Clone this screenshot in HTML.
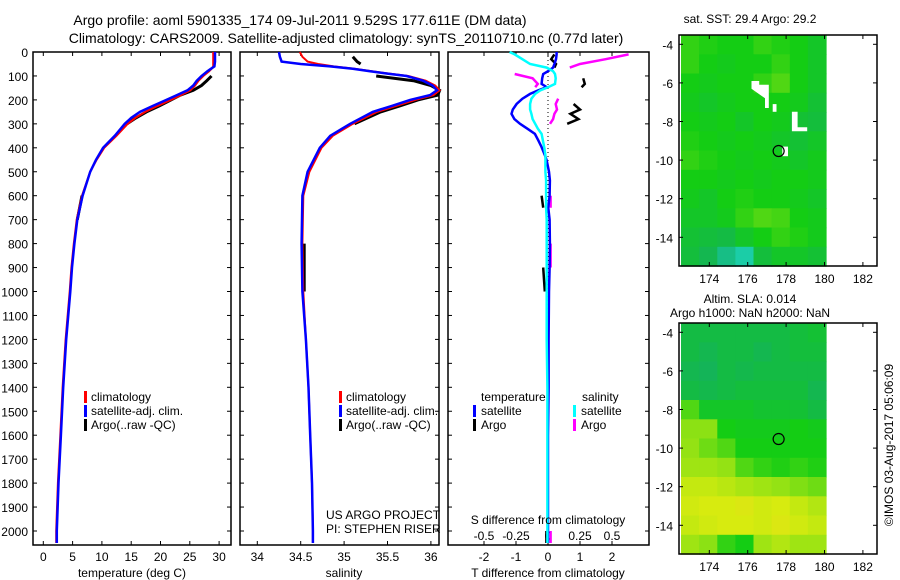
<!DOCTYPE html>
<html><head><meta charset="utf-8"><style>
body{margin:0;background:#fff;}
svg{display:block;font-family:"Liberation Sans",sans-serif;}
text{fill:#000;}
</style></head><body>
<svg id="c" width="900" height="580">
<text x="300" y="25" font-size="14" text-anchor="middle">Argo profile: aoml 5901335_174 09-Jul-2011 9.529S 177.611E (DM data)</text>
<text x="346" y="43" font-size="14" text-anchor="middle">Climatology: CARS2009. Satellite-adjusted climatology: synTS_20110710.nc (0.77d later)</text>
<text x="750" y="23" font-size="12" text-anchor="middle">sat. SST: 29.4 Argo: 29.2</text>
<text x="750" y="303" font-size="12" text-anchor="middle">Altim. SLA: 0.014</text>
<text x="750" y="317" font-size="12" text-anchor="middle">Argo h1000: NaN h2000: NaN</text>
<text transform="translate(893,445) rotate(-90)" font-size="12" text-anchor="middle">©IMOS 03-Aug-2017 05:06:09</text>
</svg>
<script>
// ---- data ----
const depthT=[0,20,40,60,70,80,100,120,140,160,180,200,225,250,275,300,350,400,450,500,600,700,800,900,1000,1200,1400,1600,1800,2000,2050];
const tempSat=[29.3,29.3,29.3,29.2,28.6,28.0,27.0,26.2,25.6,24.6,22.8,21.0,18.7,16.5,15.0,13.9,12.2,10.2,9.0,8.0,6.7,5.8,5.3,4.9,4.6,3.9,3.4,3.0,2.6,2.3,2.3];
const tempClim=[29.0,29.0,29.0,29.0,28.7,28.3,27.3,26.5,25.9,25.1,23.5,21.8,19.5,17.4,15.7,14.4,12.5,10.4,9.1,8.0,6.6,5.7,5.2,4.8,4.5,3.8,3.3,2.9,2.5,2.2,2.2];
const tempArgo=[null,null,null,null,null,null,28.7,27.9,27.0,25.6,23.4,21.8,19.8,17.6,15.8,14.3,null,null,null,null,6.6,5.8,null,null,null,null,null,null,null,null,null];
const depthS=[0,20,40,50,60,70,80,90,100,120,140,160,180,200,225,250,300,350,400,500,600,800,1000,1200,1400,1600,1800,2000,2050];
const salSat=[34.25,34.26,34.28,34.5,34.84,35.1,35.3,35.5,35.72,35.91,36.02,36.07,35.99,35.76,35.55,35.33,35.07,34.84,34.72,34.58,34.52,34.51,34.52,34.56,34.59,34.61,34.63,34.64,34.64];
const salClim=[34.49,34.52,34.58,34.7,34.88,35.12,35.32,35.52,35.74,35.94,36.05,36.1,36.03,35.82,35.6,35.38,35.1,34.87,34.74,34.6,34.53,34.52,34.53,34.56,34.59,34.61,34.63,34.64,34.64];
const salArgo=[null,35.1,35.15,35.19,null,null,null,null,35.37,35.8,36.0,36.1,36.08,35.85,35.64,35.42,35.12,null,null,null,null,34.54,34.54,null,null,null,null,null,null];
const depthD=[0,10,30,50,65,80,92,110,133,147,160,175,195,217,240,258,280,300,320,342,370,397,430,453,500,536,600,650,700,800,900,1000,1200,1400,1600,1800,2000,2050];
const tDiffSat=[0.27,0.27,0.25,0.2,0.16,0,-0.15,-0.18,-0.2,-0.04,-0.3,-0.56,-0.8,-0.98,-1.1,-1.14,-1.05,-0.875,-0.65,-0.41,-0.3,-0.2,-0.1,-0.04,0.03,0.06,0.05,0.01,0.05,0.06,0.05,0.03,0.02,0.02,0,0,0,0];
const sDiffSat=[-0.3,-0.26,-0.2,-0.14,-0.01,0.04,0.055,0.06,0.055,0,-0.06,-0.1,-0.13,-0.14,-0.14,-0.13,-0.12,-0.1,-0.08,-0.05,-0.04,-0.03,-0.02,-0.02,-0.02,-0.015,-0.015,-0.015,-0.01,-0.01,-0.01,-0.01,-0.01,-0.005,-0.005,-0.005,-0.005,-0.005];
const tDiffArgo=[null,0.2,0.1,0.25,0.2,null,null,1.1,1.15,1.05,null,null,null,0.8,1.0,0.7,0.95,0.6,null,null,null,null,null,null,null,null,-0.2,-0.15,null,null,-0.15,-0.1,null,null,null,null,-0.05,-0.05];
const sDiffArgo=[null,0.63,0.45,0.25,0.17,null,-0.26,-0.12,-0.08,-0.1,null,null,0.08,0.06,0.07,0.05,0.04,0.016,null,null,null,null,null,null,null,null,0.02,0.02,null,0.02,0.02,null,0.02,null,0.02,null,0.02,0.02];
const depthTicks=[0,100,200,300,400,500,600,700,800,900,1000,1100,1200,1300,1400,1500,1600,1700,1800,1900,2000];
const tempTicks=[0,5,10,15,20,25,30];
const salTicks=[34,34.5,35,35.5,36];
const tDiffTicks=[-2,-1,0,1,2];
const sDiffTicks=[-0.5,-0.25,0,0.25,0.5];
const sDiffTickLabels=["-0.5","-0.25","0","0.25","0.5"];
const mapLonTicks=[174,176,178,180,182];
const mapLatTicks=[-4,-6,-8,-10,-12,-14];
const sstGrid=[
[.55,.52,.5,.5,.55,.52,.5,.45],[.55,.5,.48,.5,.5,.55,.5,.45],[.5,.48,.5,.5,.55,.6,.5,.45],[.48,.45,.48,.5,.5,.5,.48,.42],
[.5,.48,.5,.45,.5,.48,.42,.4],[.52,.5,.48,.5,.48,.45,.42,.45],[.55,.52,.5,.48,.5,.48,.45,.48],[.5,.5,.48,.5,.48,.5,.5,.48],
[.48,.45,.5,.52,.5,.5,.48,.45],[.45,.45,.48,.55,.6,.58,.5,.48],[.42,.4,.38,.45,.5,.55,.52,.48],[.4,.35,.2,.1,.4,.45,.45,.42]];
const slaGrid=[
[.38,.38,.38,.38,.38,.38,.4,.42],[.38,.35,.38,.38,.35,.38,.4,.4],[.35,.33,.38,.36,.38,.38,.38,.38],[.38,.36,.38,.4,.4,.4,.4,.35],
[.6,.45,.45,.45,.43,.43,.42,.38],[.7,.7,.5,.48,.48,.48,.5,.48],[.72,.65,.6,.5,.5,.5,.5,.5],[.75,.75,.72,.6,.55,.52,.55,.52],
[.85,.85,.82,.78,.75,.72,.68,.65],[.88,.9,.9,.92,.88,.9,.85,.8],[.85,.88,.9,.9,.88,.92,.88,.85],[.75,.7,.55,.5,.75,.8,.75,.75]];
const argoLon=177.611, argoLat=-9.529;

// ---- drawing ----
const svg=document.getElementById('c');
const NS='http://www.w3.org/2000/svg';
function mk(tag,attrs,parent){const e=document.createElementNS(NS,tag);for(const k in attrs)e.setAttribute(k,attrs[k]);(parent||svg).appendChild(e);return e;}
const TOP=52,BOT=545;
const yD=d=>52+d*0.2395;
function line(xs,ds,xf,color,w,name){
  let d='',pen=false;
  for(let i=0;i<xs.length;i++){
    if(xs[i]==null){pen=false;continue;}
    const X=xf(xs[i]).toFixed(1),Y=yD(ds[i]).toFixed(1);
    d+=(pen?'L':'M')+X+','+Y;pen=true;
  }
  const p=mk('path',{d:d,fill:'none',stroke:color,'stroke-width':w});
  
  
}
function frame(x0,x1,name){
  const r=mk('rect',{x:x0,y:TOP,width:x1-x0,height:BOT-TOP,fill:'none',stroke:'#000','stroke-width':1.5});
  
  
  depthTicks.forEach(t=>{const y=yD(t);mk('line',{x1:x0,x2:x0+4,y1:y,y2:y,stroke:'#000'});mk('line',{x1:x1-4,x2:x1,y1:y,y2:y,stroke:'#000'});});
}
function txt(x,y,s,anchor,size,name){const t=mk('text',{x:x,y:y,'font-size':size||12,'text-anchor':anchor||'start'});t.textContent=s;
  
  return t;}
function bar(x,y,c,name){const r=mk('rect',{x:x,y:y-10,width:3,height:12,fill:c});
  
  }

// panel 1 temperature
const xT=v=>43.3+v*5.86;
frame(33,231,'temperature-panel');
depthTicks.forEach(t=>txt(28,yD(t)+5,String(t),'end',12,'depth-tick-label'));
tempTicks.forEach(t=>{const x=xT(t);mk('line',{x1:x,x2:x,y1:BOT,y2:BOT-4,stroke:'#000'});mk('line',{x1:x,x2:x,y1:TOP,y2:TOP+4,stroke:'#000'});txt(x,561,String(t),'middle',12,'temperature-tick-label');});
txt(132,577,'temperature (deg C)','middle',12,'temperature-axis-title');
line(tempArgo,depthT,xT,'#000',3,'temperature-argo-line');
line(tempClim,depthT,xT,'#f00',2,'temperature-climatology-line');
line(tempSat,depthT,xT,'#00f',2.5,'temperature-satellite-line');
bar(84,401,'#f00','legend-climatology-swatch');txt(91,401,'climatology','start',12,'legend-climatology');
bar(84,415,'#00f','legend-satellite-swatch');txt(91,415,'satellite-adj. clim.','start',12,'legend-satellite-adj');
bar(84,429,'#000','legend-argo-swatch');txt(91,429,'Argo(..raw -QC)','start',12,'legend-argo');

// panel 2 salinity
const xS=v=>257.3+(v-34)*86.8;
frame(240,439,'salinity-panel');
salTicks.forEach(t=>{const x=xS(t);mk('line',{x1:x,x2:x,y1:BOT,y2:BOT-4,stroke:'#000'});mk('line',{x1:x,x2:x,y1:TOP,y2:TOP+4,stroke:'#000'});txt(x,561,String(t),'middle',12,'salinity-tick-label');});
txt(344,577,'salinity','middle',12,'salinity-axis-title');
line(salArgo,depthS,xS,'#000',3,'salinity-argo-line');
line(salClim,depthS,xS,'#f00',2,'salinity-climatology-line');
line(salSat,depthS,xS,'#00f',2.5,'salinity-satellite-line');
bar(339,401,'#f00','legend2-climatology-swatch');txt(346,401,'climatology','start',12,'legend2-climatology');
bar(339,415,'#00f','legend2-satellite-swatch');txt(346,415,'satellite-adj. clim.','start',12,'legend2-satellite-adj');
bar(339,429,'#000','legend2-argo-swatch');txt(346,429,'Argo(..raw -QC)','start',12,'legend2-argo');
txt(326,519,'US ARGO PROJECT','start',12,'project-label');
txt(326,533,'PI: STEPHEN RISER','start',12,'pi-label');

// panel 3 differences
const xTD=v=>548+v*32;
const xSD=v=>548+v*128;
frame(448,649,'difference-panel');
mk('line',{x1:548,x2:548,y1:TOP,y2:BOT,stroke:'#000','stroke-dasharray':'1,3'});
tDiffTicks.forEach(t=>{const x=xTD(t);mk('line',{x1:x,x2:x,y1:BOT,y2:BOT-4,stroke:'#000'});mk('line',{x1:x,x2:x,y1:TOP,y2:TOP+4,stroke:'#000'});txt(x,561,String(t),'middle',12,'t-diff-tick-label');});
sDiffTicks.forEach((t,i)=>txt(xSD(t),540,sDiffTickLabels[i],'middle',12,'s-diff-tick-label'));
line(tDiffArgo,depthD,xTD,'#000',2.5,'t-diff-argo-line');
line(sDiffArgo,depthD,xSD,'#f0f',2.5,'s-diff-argo-line');
line(tDiffSat,depthD,xTD,'#00f',2.5,'t-diff-satellite-line');
line(sDiffSat,depthD,xSD,'#0ff',2.5,'s-diff-satellite-line');
txt(548,524,'S difference from climatology','middle',12,'s-diff-axis-title');
txt(548,577,'T difference from climatology','middle',12,'t-diff-axis-title');
txt(481,401,'temperature','start',12,'legend3-temperature-header');
txt(582,401,'salinity','start',12,'legend3-salinity-header');
bar(473,415,'#00f','legend3-t-satellite-swatch');txt(481,415,'satellite','start',12,'legend3-t-satellite');
bar(473,429,'#000','legend3-t-argo-swatch');txt(481,429,'Argo','start',12,'legend3-t-argo');
bar(573,415,'#0ff','legend3-s-satellite-swatch');txt(581,415,'satellite','start',12,'legend3-s-satellite');
bar(573,429,'#f0f','legend3-s-argo-swatch');txt(581,429,'Argo','start',12,'legend3-s-argo');

// maps
function cmap(v){
  const stops=[[0,[30,220,200]],[0.3,[20,175,100]],[0.5,[20,205,20]],[0.7,[140,225,20]],[0.9,[215,235,15]],[1,[235,215,30]]];
  for(let i=1;i<stops.length;i++){if(v<=stops[i][0]){const a=stops[i-1],b=stops[i],f=(v-a[0])/(b[0]-a[0]);
    return 'rgb('+a[1].map((c,j)=>Math.round(c+(b[1][j]-c)*f)).join(',')+')';}}
  return 'rgb(235,215,30)';
}
function drawMap(oy,grid,name,whites){
  const lonX=l=>709.3+(l-174)*19.2;
  const latY=l=>oy+44.3+(-4-l)*19.3;
  const g=mk('g',{});
  
  
  const x0=681,x1=826,y0=oy+35,y1=oy+266;
  const cw=(x1-x0)/grid[0].length,ch=(y1-y0)/grid.length;
  grid.forEach((row,r)=>row.forEach((v,c)=>{
    const cell=mk('rect',{x:(x0+c*cw).toFixed(1),y:(y0+r*ch).toFixed(1),width:(cw+0.6).toFixed(1),height:(ch+0.6).toFixed(1),fill:cmap(v)},g);
    
    
  }));
  (whites||[]).forEach(p=>mk('polygon',{points:p.map(q=>lonX(q[0]).toFixed(1)+','+latY(q[1]).toFixed(1)).join(' '),fill:'#fff'},g));
  mk('rect',{x:679,y:y0,width:198,height:y1-y0,fill:'none',stroke:'#000','stroke-width':1.5},g);
  mapLonTicks.forEach(l=>{const x=lonX(l);mk('line',{x1:x,x2:x,y1:y1,y2:y1-4,stroke:'#000'},g);mk('line',{x1:x,x2:x,y1:y0,y2:y0+4,stroke:'#000'},g);txt(x,y1+17,String(l),'middle',12,'map-lon-tick-label');});
  mapLatTicks.forEach(l=>{const y=latY(l);mk('line',{x1:679,x2:683,y1:y,y2:y,stroke:'#000'},g);mk('line',{x1:873,x2:877,y1:y,y2:y,stroke:'#000'},g);txt(673,y+5,String(l),'end',12,'map-lat-tick-label');});
  const c=mk('circle',{cx:lonX(argoLon),cy:latY(argoLat),r:5.5,fill:'none',stroke:'#000','stroke-width':1.2},g);
  
  
}
drawMap(0,sstGrid,'sst-map',[
  [[176.2,-5.9],[176.6,-5.9],[176.6,-6.1],[177.1,-6.1],[177.1,-7.3],[176.9,-7.3],[176.9,-6.8],[176.2,-6.3]],
  [[177.3,-7.1],[177.5,-7.1],[177.5,-7.5],[177.3,-7.5]],
  [[178.3,-7.5],[178.6,-7.5],[178.6,-8.3],[179.1,-8.3],[179.1,-8.5],[178.3,-8.5]],
  [[177.8,-9.3],[178.1,-9.3],[178.1,-9.8],[177.8,-9.8]]]);
drawMap(288,slaGrid,'sla-map',[]);
</script>
</body></html>
